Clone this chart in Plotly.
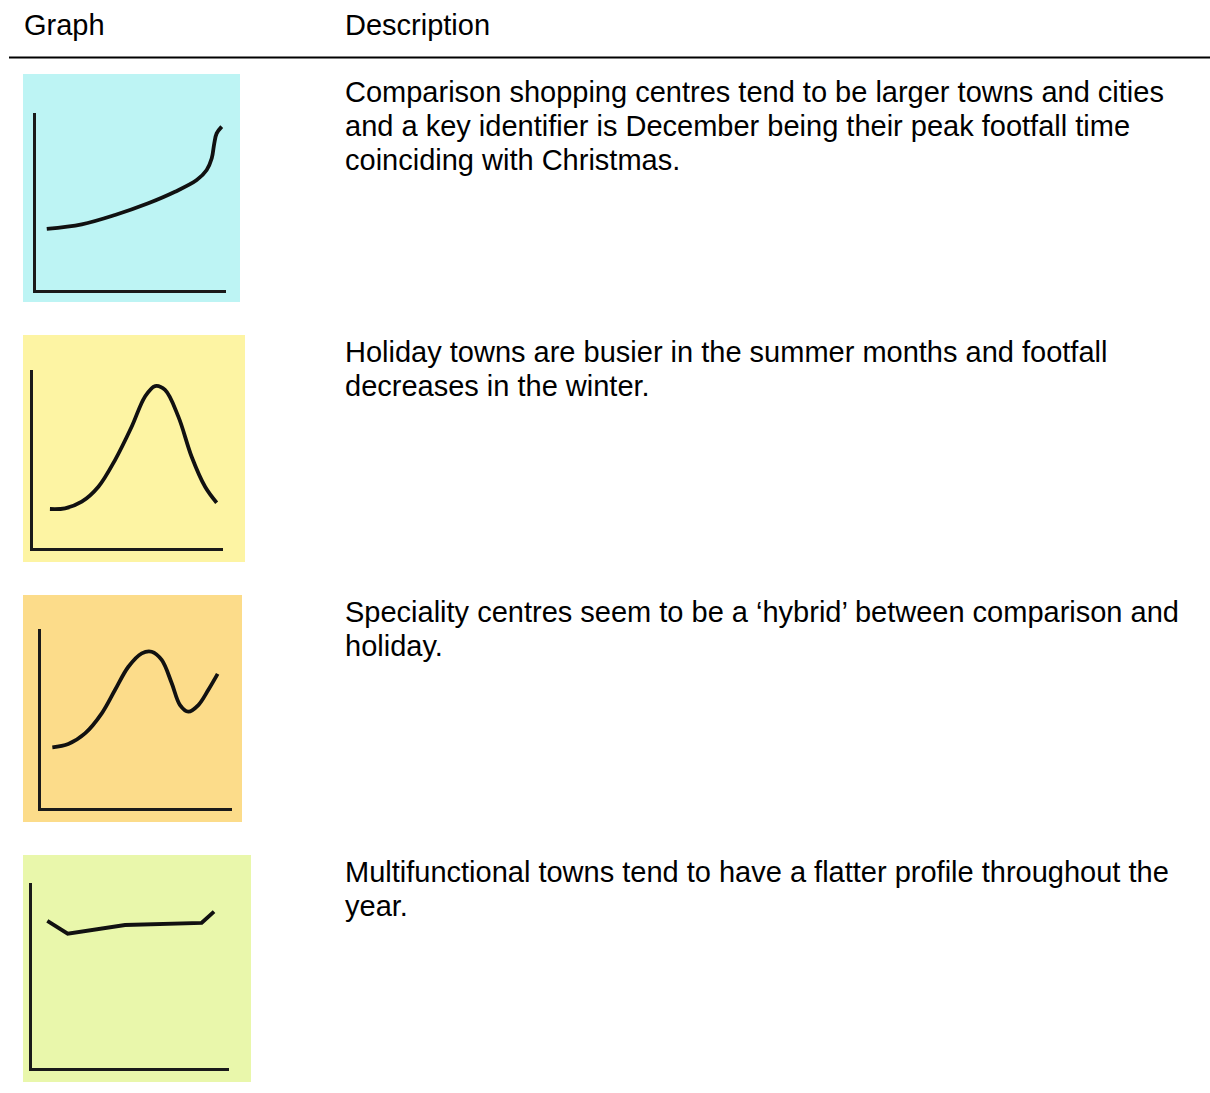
import plotly.graph_objects as go

W, H = 1210, 1093

# ---------------- data (x = month position 0-12, y = footfall index 0-10)
comparison_x = [0.68, 2.89, 4.99, 7.09, 8.78, 10.15, 10.78, 11.10, 11.26, 11.41, 11.73]
comparison_y = [3.45, 3.71, 4.24, 4.90, 5.55, 6.21, 6.78, 7.44, 8.29, 8.85, 9.23]

holiday_x = [1.07, 2.02, 3.08, 4.13, 5.18, 6.23, 7.07, 7.71, 8.34, 9.18, 10.02, 10.87, 11.60]
holiday_y = [2.19, 2.23, 2.60, 3.44, 4.94, 6.81, 8.50, 9.10, 8.88, 7.38, 5.13, 3.44, 2.54]

speciality_x = [0.73, 1.73, 2.78, 3.83, 4.66, 5.50, 6.34, 6.96, 7.59, 8.22, 8.74, 9.26, 9.89, 10.51, 11.10]
speciality_y = [3.39, 3.58, 4.17, 5.29, 6.59, 7.89, 8.64, 8.73, 8.27, 6.97, 5.75, 5.38, 5.75, 6.59, 7.49]

multifunctional_x = [0.95, 2.19, 5.68, 10.34, 11.09]
multifunctional_y = [7.95, 7.26, 7.73, 7.85, 8.45]

header_labels = ["Graph", "Description"]

descriptions = [
    ["Comparison shopping centres tend to be larger towns and cities",
     "and a key identifier is December being their peak footfall time",
     "coinciding with Christmas."],
    ["Holiday towns are busier in the summer months and footfall",
     "decreases in the winter."],
    ["Speciality centres seem to be a \u2018hybrid\u2019 between comparison and",
     "holiday."],
    ["Multifunctional towns tend to have a flatter profile throughout the",
     "year."],
]

series = [
    (comparison_x, comparison_y, "spline"),
    (holiday_x, holiday_y, "spline"),
    (speciality_x, speciality_y, "spline"),
    (multifunctional_x, multifunctional_y, "linear"),
]

# ---------------- layout geometry (pixels)
bg_colors = ["#bdf4f4", "#fdf4a3", "#fcdc8a", "#e9f7ab"]
bg_boxes = [(23, 74, 240, 302), (23, 335, 245, 562), (23, 595, 242, 822), (23, 855, 251, 1082)]
axis_boxes = [(36, 113, 226, 290), (33, 370, 223, 548), (40.7, 629, 232, 808), (31.7, 883, 229, 1068)]
text_tops = [92, 352, 612, 872]
line_gap = 34
FONT = dict(family="Liberation Sans, Arial", size=29, color="#000000")

def px(x):
    return x / W

def py(y):
    return 1 - y / H

fig = go.Figure()
shapes = []
annotations = []

for i, ((xs, ys, shp), box, ab, col) in enumerate(zip(series, bg_boxes, axis_boxes, bg_colors)):
    n = "" if i == 0 else str(i + 1)
    shapes.append(dict(type="rect", xref="paper", yref="paper",
                       x0=px(box[0]), x1=px(box[2]), y0=py(box[3]), y1=py(box[1]),
                       fillcolor=col, line=dict(width=0), layer="below"))
    fig.add_trace(go.Scatter(x=xs, y=ys, mode="lines",
                             line=dict(color="#111111", width=3.8, shape=shp, smoothing=1.0),
                             xaxis="x" + n, yaxis="y" + n, showlegend=False, hoverinfo="skip"))
    fig.layout["xaxis" + n] = dict(domain=[px(ab[0]), px(ab[2])], range=[0, 12],
                                   showline=True, linecolor="#1a1a1a", linewidth=3,
                                   showgrid=False, zeroline=False, showticklabels=False,
                                   ticks="", anchor="y" + n, fixedrange=True)
    fig.layout["yaxis" + n] = dict(domain=[py(ab[3]), py(ab[1])], range=[0, 10],
                                   showline=True, linecolor="#1a1a1a", linewidth=3,
                                   showgrid=False, zeroline=False, showticklabels=False,
                                   ticks="", anchor="x" + n, fixedrange=True)
    for j, line in enumerate(descriptions[i]):
        annotations.append(dict(text=line, xref="paper", yref="paper",
                                x=px(343), y=py(text_tops[i] + j * line_gap),
                                xanchor="left", yanchor="middle", showarrow=False,
                                font=FONT))

# header
annotations.append(dict(text=header_labels[0], xref="paper", yref="paper", x=px(22), y=py(25),
                        xanchor="left", yanchor="middle", showarrow=False, font=FONT))
annotations.append(dict(text=header_labels[1], xref="paper", yref="paper", x=px(343), y=py(25),
                        xanchor="left", yanchor="middle", showarrow=False, font=FONT))
shapes.append(dict(type="line", xref="paper", yref="paper", x0=px(9), x1=px(1210),
                   y0=py(57.5), y1=py(57.5), line=dict(color="#000000", width=2)))

fig.update_layout(width=W, height=H, margin=dict(l=0, r=0, t=0, b=0),
                  paper_bgcolor="white", plot_bgcolor="rgba(0,0,0,0)",
                  shapes=shapes, annotations=annotations, showlegend=False)

fig.write_html("out.html", config={"displayModeBar": False},
               post_script="document.body.style.margin='0';document.body.style.padding='0';")
